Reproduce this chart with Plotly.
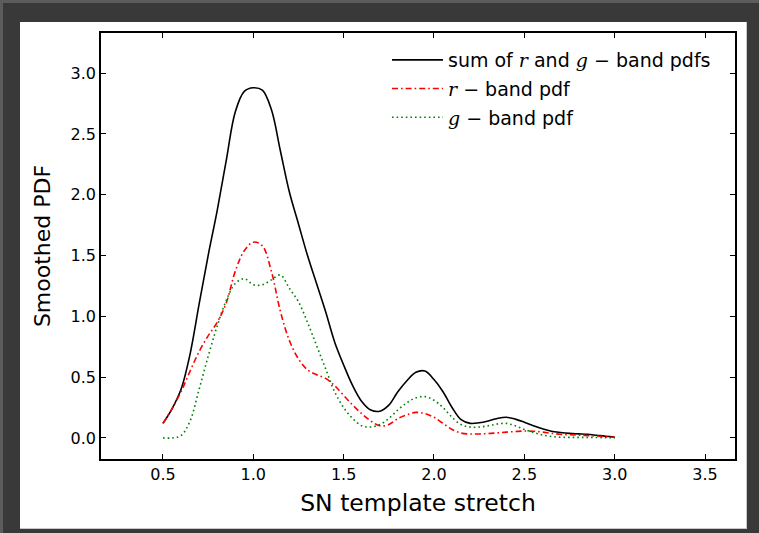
import plotly.graph_objects as go

# Stretch grid on which the smoothed PDFs were evaluated
stretch = [0.50, 0.55, 0.60, 0.65, 0.70, 0.75, 0.80, 0.85, 0.90, 0.95,
           1.00, 1.05, 1.10, 1.15, 1.20, 1.25, 1.30, 1.35, 1.40, 1.45,
           1.50, 1.55, 1.60, 1.65, 1.70, 1.75, 1.80, 1.85, 1.90, 1.95,
           2.00, 2.05, 2.10, 2.15, 2.20, 2.25, 2.30, 2.35, 2.40, 2.45,
           2.50, 2.55, 2.60, 2.65, 2.70, 2.75, 2.80, 2.85, 2.90, 2.95,
           3.00]

# r-band smoothed PDF
pdf_r = [0.12, 0.24, 0.38, 0.55, 0.71, 0.84, 0.95, 1.11, 1.37, 1.54,
         1.61, 1.58, 1.37, 1.04, 0.80, 0.65, 0.56, 0.52, 0.49, 0.43,
         0.35, 0.27, 0.20, 0.14, 0.10, 0.11, 0.16, 0.19, 0.21, 0.20,
         0.17, 0.12, 0.07, 0.04, 0.033, 0.033, 0.036, 0.042, 0.048, 0.053,
         0.057, 0.055, 0.048, 0.038, 0.030, 0.026, 0.023, 0.020, 0.016, 0.010,
         0.005]

# g-band smoothed PDF
pdf_g = [0.00, 0.00, 0.02, 0.14, 0.40, 0.67, 0.92, 1.13, 1.27, 1.31,
         1.26, 1.26, 1.30, 1.34, 1.23, 1.12, 0.95, 0.76, 0.57, 0.38,
         0.25, 0.16, 0.10, 0.09, 0.11, 0.16, 0.23, 0.29, 0.33, 0.34,
         0.31, 0.25, 0.17, 0.11, 0.09, 0.09, 0.10, 0.115, 0.12, 0.10,
         0.07, 0.045, 0.025, 0.012, 0.006, 0.005, 0.005, 0.005, 0.004, 0.002,
         0.000]

# Combined r + g PDF
pdf_sum = [0.12, 0.24, 0.40, 0.69, 1.10, 1.50, 1.87, 2.28, 2.68, 2.85,
           2.88, 2.86, 2.70, 2.36, 2.02, 1.76, 1.50, 1.27, 1.04, 0.79,
           0.60, 0.43, 0.30, 0.23, 0.22, 0.27, 0.38, 0.47, 0.54, 0.55,
           0.48, 0.38, 0.25, 0.15, 0.12, 0.125, 0.14, 0.16, 0.17, 0.155,
           0.13, 0.10, 0.075, 0.055, 0.045, 0.038, 0.034, 0.030, 0.022, 0.014,
           0.008]

x_ticks = [0.5, 1.0, 1.5, 2.0, 2.5, 3.0, 3.5]
y_ticks = [0.0, 0.5, 1.0, 1.5, 2.0, 2.5, 3.0]

W, H = 759, 533
ML, MR, MT, MB = 101, 24, 33, 74
PW, PH = W - ML - MR, H - MT - MB


def px_x(p):
    return (p - ML) / PW


def px_y(p):
    return (H - MB - p) / PH


def band(letter):
    return ('<span style="font-family:\'DejaVu Serif\';font-style:italic">'
            + letter + '</span>')


fig = go.Figure()
fig.add_trace(go.Scatter(
    x=stretch, y=pdf_sum, mode="lines", line_shape="spline",
    line=dict(color="black", width=1.6),
    name="sum of " + band("r") + " and " + band("g") + " \u2212 band pdfs",
    legendgroup="a"))
fig.add_trace(go.Scatter(
    x=stretch, y=pdf_r, mode="lines", line_shape="spline",
    line=dict(color="#ff0000", width=1.6, dash="6px,3px,1.6px,3px"),
    name=band("r") + " \u2212 band pdf", legendgroup="b"))
fig.add_trace(go.Scatter(
    x=stretch, y=pdf_g, mode="lines", line_shape="spline",
    line=dict(color="#008000", width=1.6, dash="1.6px,3px"),
    name=band("g") + " \u2212 band pdf", legendgroup="c"))

# Window frame: light top/left edge, white canvas inset in dark border
shapes = [
    dict(type="rect", xref="paper", yref="paper", layer="below",
         x0=px_x(0), x1=px_x(W), y0=px_y(0), y1=px_y(3),
         fillcolor="#5c5c5c", line_width=0),
    dict(type="rect", xref="paper", yref="paper", layer="below",
         x0=px_x(0), x1=px_x(3), y0=px_y(0), y1=px_y(H),
         fillcolor="#5c5c5c", line_width=0),
    dict(type="rect", xref="paper", yref="paper", layer="below",
         x0=px_x(20), x1=px_x(747), y0=px_y(22), y1=px_y(529),
         fillcolor="#c8c8c8", line_width=0),
    dict(type="rect", xref="paper", yref="paper", layer="below",
         x0=px_x(20), x1=px_x(746), y0=px_y(22), y1=px_y(528),
         fillcolor="white", line_width=0),
]

axis_common = dict(
    showline=True, linecolor="black", linewidth=1.5, mirror="ticks",
    ticks="inside", ticklen=5, tickwidth=1, tickcolor="black",
    showgrid=False, zeroline=False,
    tickfont=dict(family="DejaVu Sans", size=16, color="black"),
)

fig.update_layout(
    width=W, height=H,
    margin=dict(l=ML, r=MR, t=MT, b=MB, pad=0),
    paper_bgcolor="#393939", plot_bgcolor="white",
    shapes=shapes,
    showlegend=True,
    legend=dict(
        x=px_x(387), y=px_y(41), xanchor="left", yanchor="top",
        bgcolor="rgba(0,0,0,0)", borderwidth=0,
        font=dict(family="DejaVu Sans", size=19, color="black"),
        traceorder="grouped", tracegroupgap=1, itemwidth=51,
    ),
    xaxis=dict(
        range=[0.157, 3.666], tickvals=x_ticks,
        ticktext=[f"{v:.1f}" for v in x_ticks],
        title=dict(text="SN template stretch", standoff=12,
                   font=dict(family="DejaVu Sans", size=23.5, color="black")),
        **axis_common),
    yaxis=dict(
        range=[-0.173, 3.33], tickvals=y_ticks,
        ticktext=[f"{v:.1f}" for v in y_ticks],
        title=dict(text="Smoothed PDF", standoff=14,
                   font=dict(family="DejaVu Sans", size=22, color="black")),
        **axis_common),
)

fig.write_html("out.html")
